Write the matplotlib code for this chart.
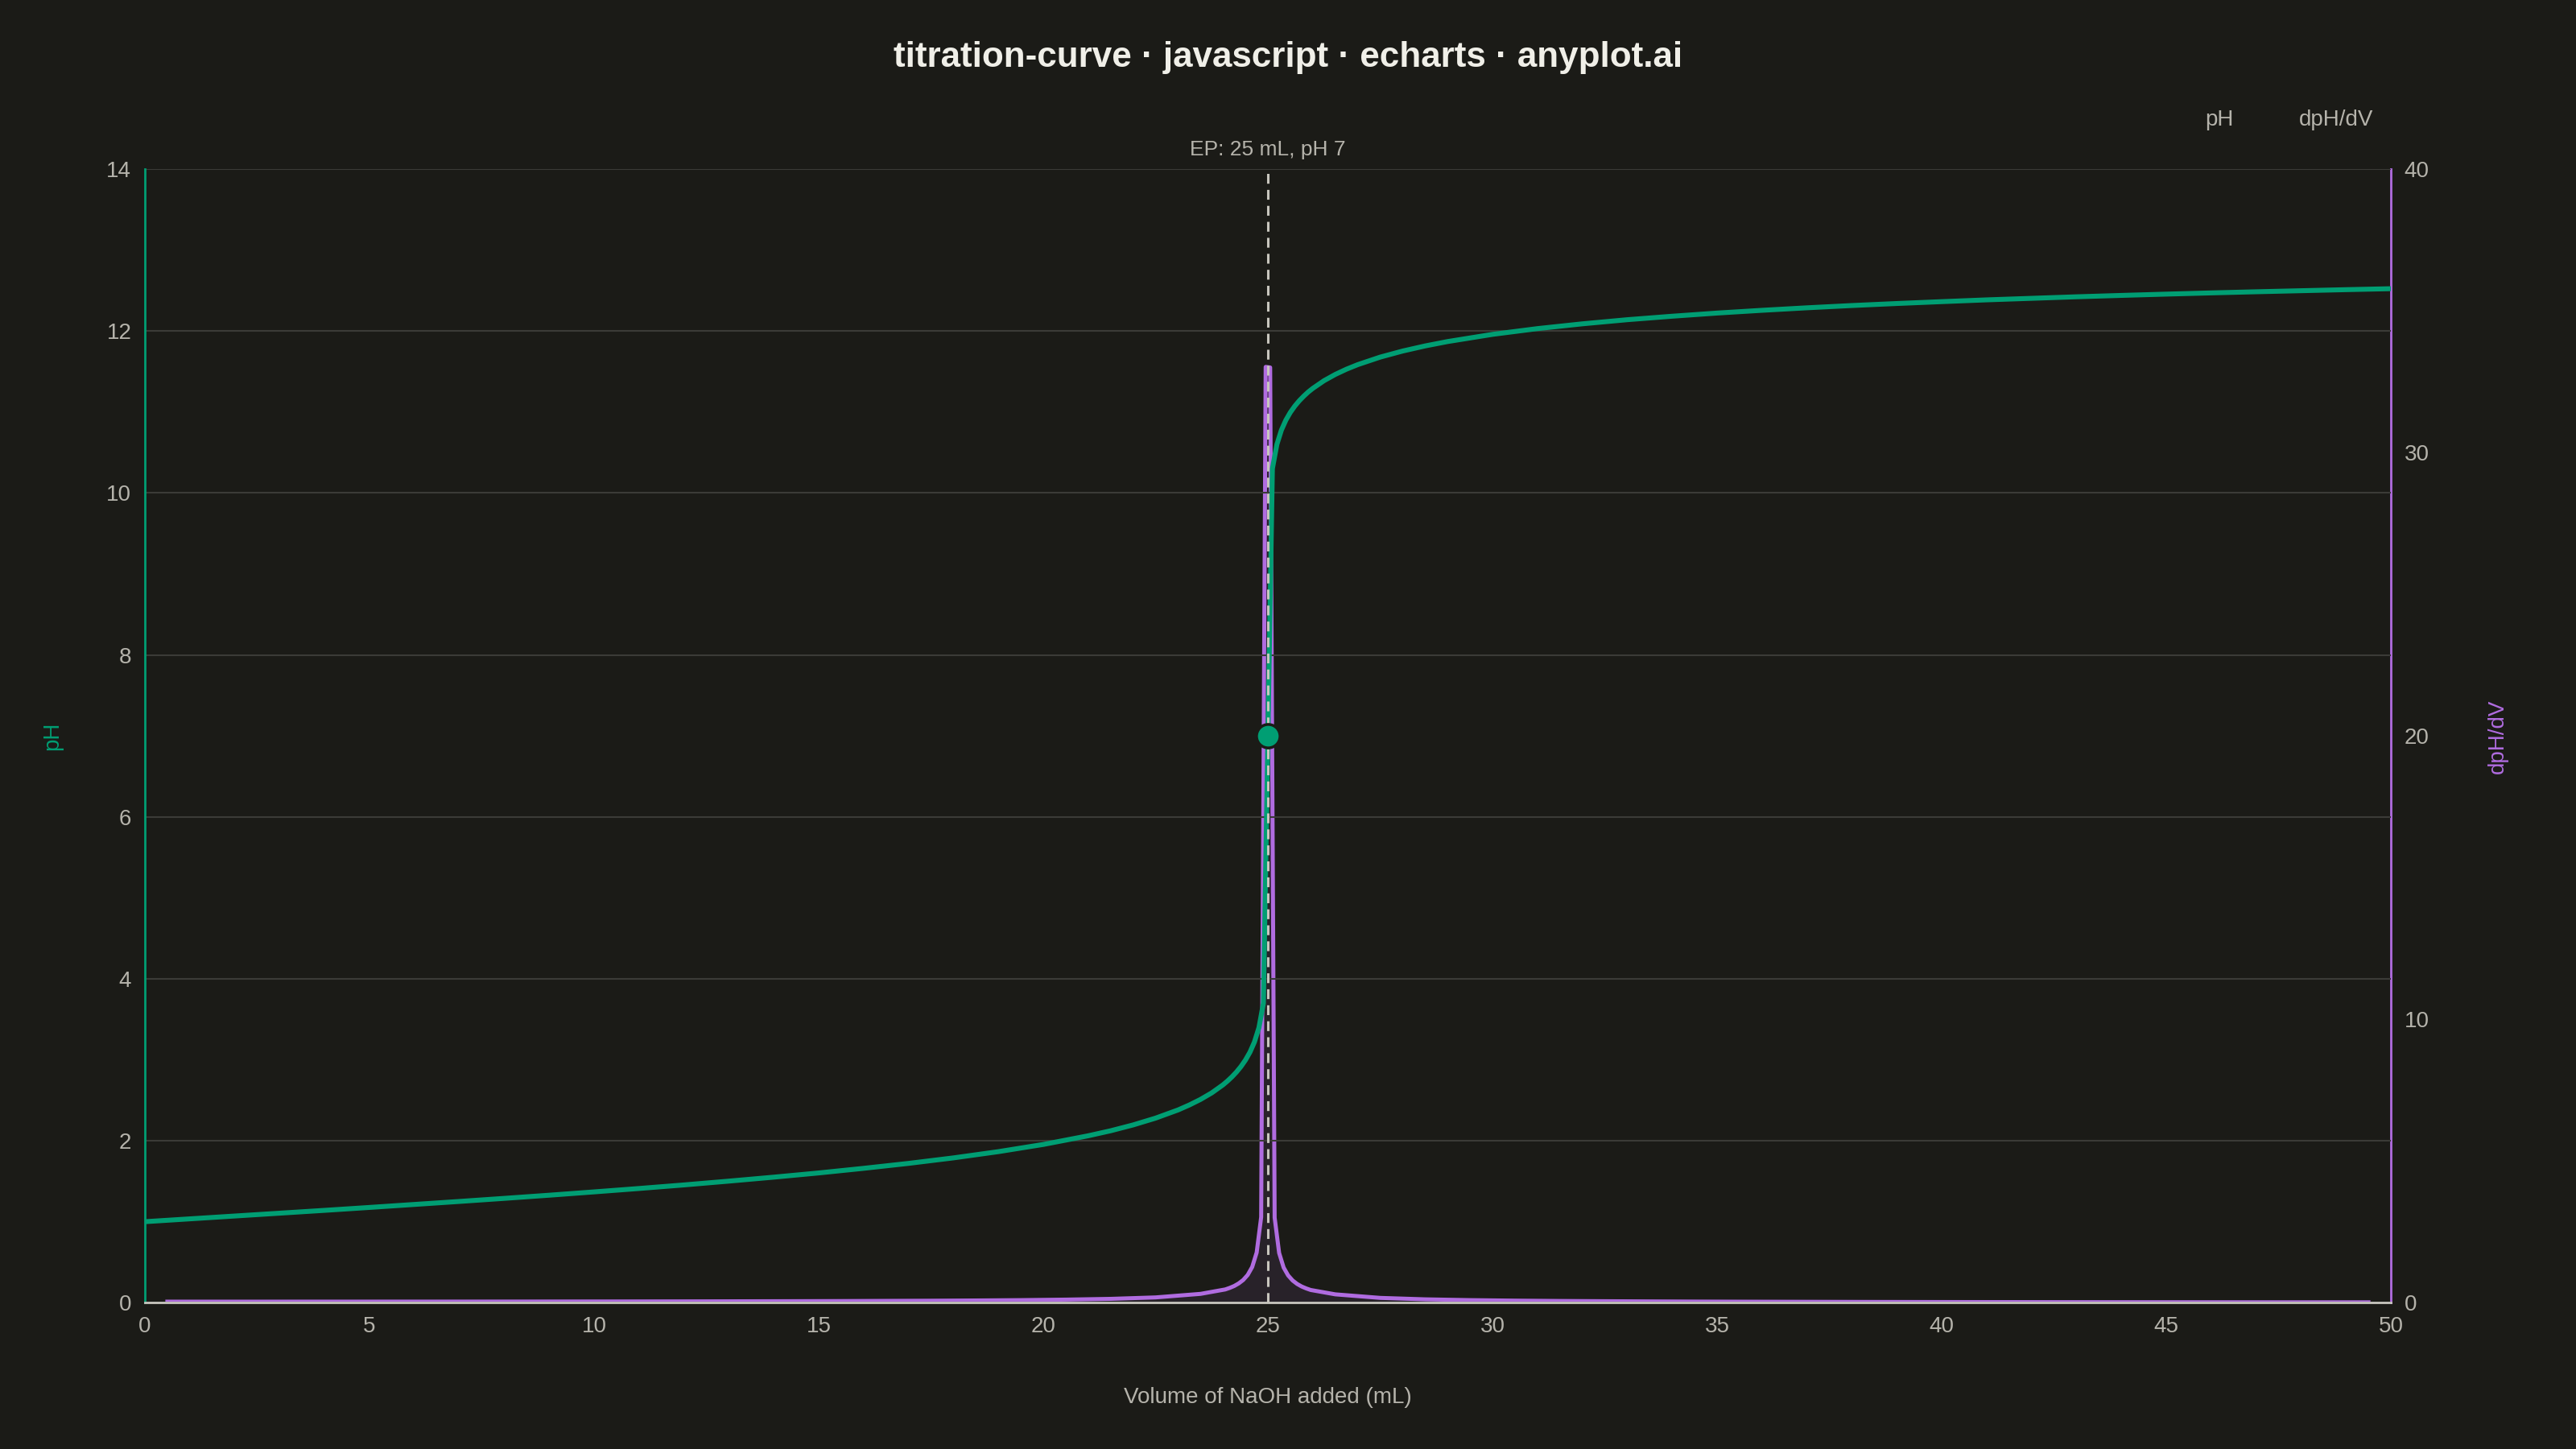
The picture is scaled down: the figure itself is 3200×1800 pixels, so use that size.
import matplotlib.pyplot as plt

# Titration data (0.1 M HCl, 25 mL, titrated with 0.1 M NaOH)
volume = [0, 1, 2, 3, 4, 5, 6, 7, 8, 9, 10, 11, 12, 13, 14, 15, 16, 17, 18, 19, 20,
          21, 21.5, 22, 22.5, 23, 23.25, 23.5, 23.75, 24, 24.1, 24.2, 24.3, 24.4, 24.5,
          24.6, 24.7, 24.8, 24.9, 25.0, 25.1, 25.2, 25.3, 25.4, 25.5, 25.6, 25.7, 25.8,
          25.9, 26, 26.25, 26.5, 26.75, 27, 27.5, 28, 28.5, 29, 30, 31, 32, 33, 34, 35,
          36, 37, 38, 39, 40, 41, 42, 43, 44, 45, 46, 47, 48, 49, 50]
ph = [1.000, 1.035, 1.070, 1.105, 1.140, 1.176, 1.213, 1.250, 1.288, 1.327, 1.368,
      1.410, 1.454, 1.501, 1.550, 1.602, 1.659, 1.720, 1.788, 1.865, 1.954,
      2.061, 2.123, 2.195, 2.279, 2.380, 2.441, 2.510, 2.591, 2.690, 2.737, 2.789,
      2.848, 2.916, 2.996, 3.093, 3.219, 3.396, 3.698, 7.000, 10.300, 10.600,
      10.776, 10.900, 10.996, 11.074, 11.140, 11.197, 11.248, 11.292, 11.387,
      11.464, 11.529, 11.585, 11.678, 11.753, 11.816, 11.870, 11.959, 12.030,
      12.089, 12.140, 12.183, 12.222, 12.256, 12.287, 12.315, 12.340, 12.363,
      12.385, 12.404, 12.423, 12.440, 12.456, 12.471, 12.485, 12.498, 12.511, 12.523]

# first derivative, at the midpoints of the volume steps
deriv_volume = [0.5, 1.5, 2.5, 3.5, 4.5, 5.5, 6.5, 7.5, 8.5, 9.5, 10.5, 11.5, 12.5,
                13.5, 14.5, 15.5, 16.5, 17.5, 18.5, 19.5, 20.5, 21.5, 22.5, 23.5,
                24.05, 24.15, 24.25, 24.35, 24.45, 24.55, 24.65, 24.75, 24.85, 24.95,
                25.05, 25.15, 25.25, 25.35, 25.45, 25.55, 25.65, 25.75, 25.85, 25.95,
                26.5, 27.5, 28.5, 29.5, 30.5, 31.5, 32.5, 33.5, 34.5, 35.5, 36.5, 37.5,
                38.5, 39.5, 40.5, 41.5, 42.5, 43.5, 44.5, 45.5, 46.5, 47.5, 48.5, 49.5]
deriv = [0.035, 0.035, 0.035, 0.036, 0.036, 0.037, 0.037, 0.038, 0.039, 0.041, 0.042,
         0.044, 0.046, 0.049, 0.052, 0.056, 0.062, 0.068, 0.077, 0.089, 0.107, 0.134,
         0.185, 0.310, 0.466, 0.521, 0.588, 0.679, 0.800, 0.978, 1.258, 1.770, 3.019,
         33.02, 33.00, 3.002, 1.753, 1.240, 0.961, 0.783, 0.661, 0.571, 0.504, 0.448,
         0.293, 0.168, 0.117, 0.089, 0.071, 0.059, 0.051, 0.044, 0.038, 0.034, 0.031,
         0.028, 0.025, 0.023, 0.021, 0.020, 0.018, 0.017, 0.016, 0.015, 0.014, 0.013,
         0.013, 0.012]

ep_volume = 25
ep_ph = 7

bg = '#1b1b17'
green = '#009e73'
purple = '#b06ce0'
text_gray = '#b5b3ab'
grid_gray = '#3b3b37'

plt.rcParams['font.family'] = ['Liberation Sans', 'DejaVu Sans']

fig = plt.figure(figsize=(32, 18), dpi=100, facecolor=bg)
ax = fig.add_axes([0.05625, 0.101, 0.8719, 0.7823])
ax2 = ax.twinx()
ax.set_zorder(ax2.get_zorder() + 1)
ax.patch.set_visible(False)
ax2.set_facecolor(bg)

# derivative on right axis
ax2.fill_between(deriv_volume, deriv, 0, color=purple, alpha=0.09, linewidth=0)
ax2.plot(deriv_volume, deriv, color=purple, linewidth=3.6, solid_joinstyle='round')
ax2.set_ylim(0, 40)
ax2.set_yticks([0, 10, 20, 30, 40])

# pH curve on left axis
ax.plot(volume, ph, color=green, linewidth=4.4, solid_joinstyle='round', zorder=3)
ax.axvline(ep_volume, color='#c8c6be', linestyle=(0, (4, 2.5)), linewidth=2.2, zorder=4)
ax.plot([ep_volume], [ep_ph], 'o', color=green, markersize=21,
        markeredgecolor=bg, markeredgewidth=2.5, zorder=5)
ax.text(ep_volume, 14.12, 'EP: 25 mL, pH 7', ha='center', va='bottom',
        fontsize=19, color=text_gray)

ax.set_xlim(0, 50)
ax.set_ylim(0, 14)
ax.set_xticks(range(0, 51, 5))
ax.set_yticks(range(0, 15, 2))
ax.grid(axis='y', color=grid_gray, linewidth=1.5)
ax.set_axisbelow(True)

for a in (ax, ax2):
    a.tick_params(length=0, labelsize=20, labelcolor=text_gray)
    a.spines['top'].set_visible(False)
ax.tick_params(axis='y', pad=12)
ax.tick_params(axis='x', pad=12)
ax2.tick_params(axis='y', pad=12)

ax.spines['left'].set_color(green)
ax.spines['left'].set_linewidth(2)
ax.spines['right'].set_visible(False)
ax.spines['bottom'].set_color('#c8c6be')
ax.spines['bottom'].set_linewidth(2)
ax2.spines['left'].set_visible(False)
ax2.spines['bottom'].set_visible(False)
ax2.spines['right'].set_color(purple)
ax2.spines['right'].set_linewidth(2)

# axis titles
fig.text(0.0203, 0.492, 'pH', rotation=90, ha='center', va='center',
         fontsize=20, color=green)
fig.text(0.9695, 0.492, 'dpH/dV', rotation=90, ha='center', va='center',
         fontsize=20, color=purple)
fig.text(0.4922, 0.0355, 'Volume of NaOH added (mL)', ha='center', va='center',
         fontsize=20, color=text_gray)

# legend (text only)
fig.text(0.8616, 0.917, 'pH', ha='center', va='center', fontsize=20, color=text_gray)
fig.text(0.9069, 0.917, 'dpH/dV', ha='center', va='center', fontsize=20, color=text_gray)

fig.text(0.5, 0.960, 'titration-curve · javascript · echarts · anyplot.ai',
         ha='center', va='center', fontsize=31.7, fontweight='bold', color='#f0efe8')

fig.savefig('out.png', dpi=100, facecolor=bg)
